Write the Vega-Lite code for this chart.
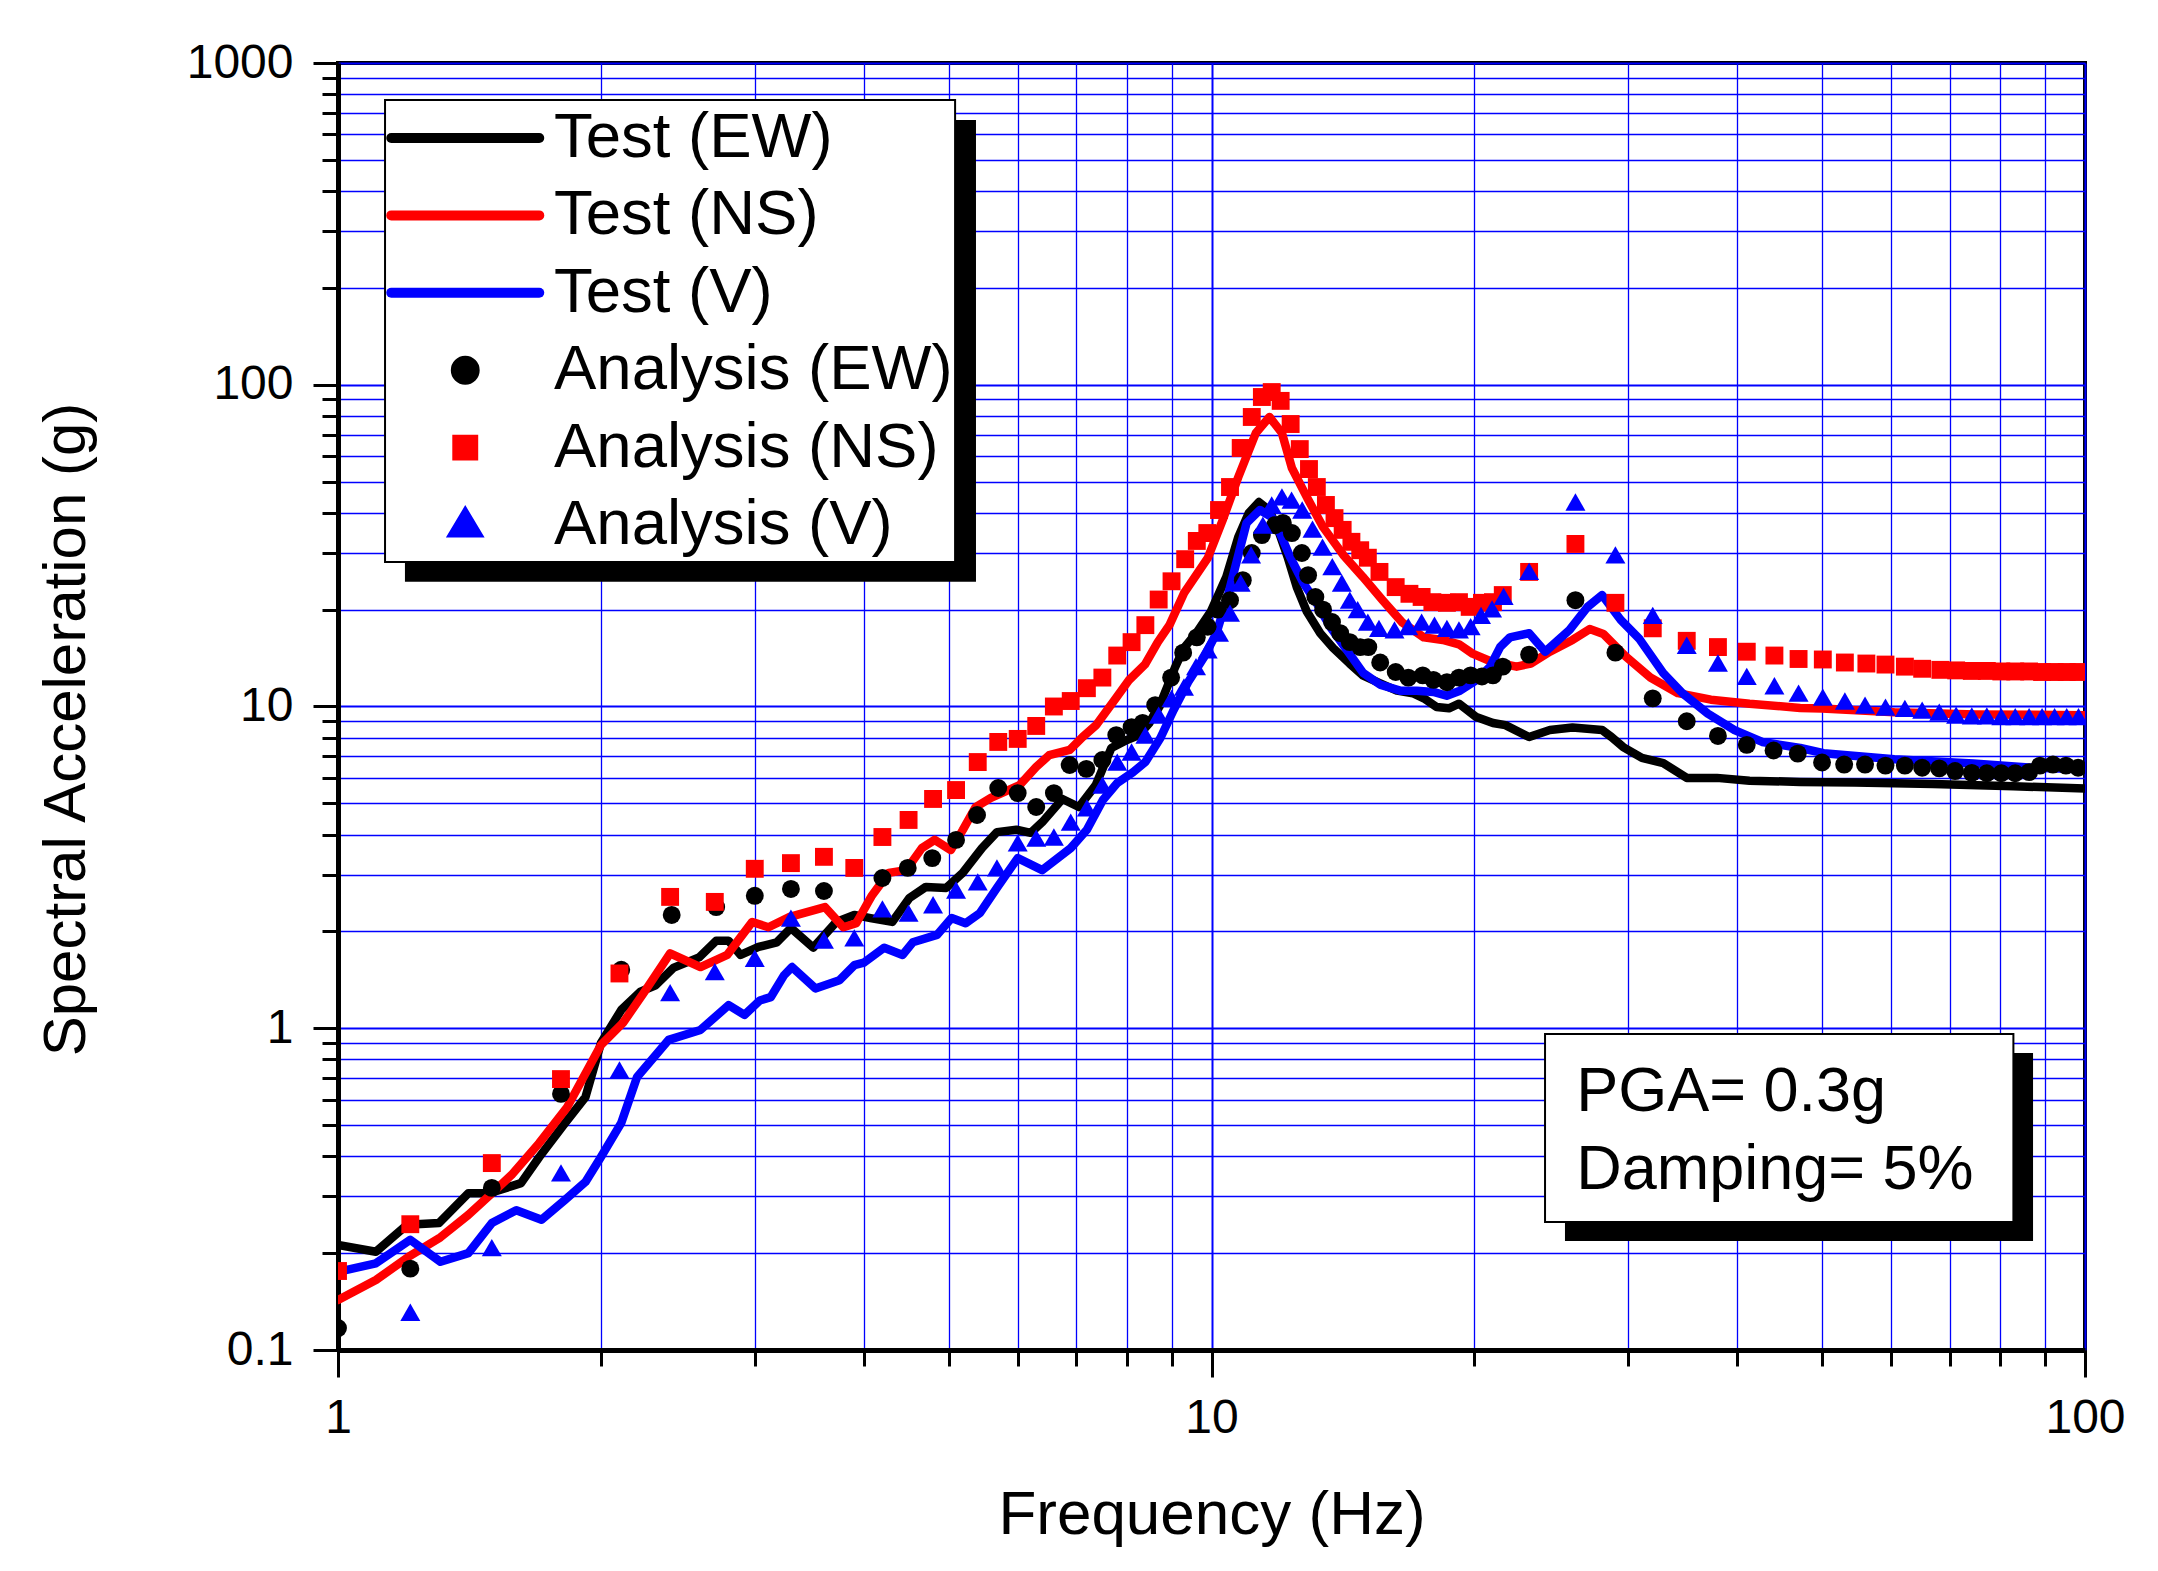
{
  "$schema": "https://vega.github.io/schema/vega-lite/v6.json",
  "width": 1747,
  "height": 1287,
  "autosize": {"type": "none"},
  "padding": {"left": 338, "top": 63, "right": 73, "bottom": 221},
  "background": "white",
  "config": {
    "view": {"stroke": "black", "strokeWidth": 4},
    "font": "Liberation Sans"
  },
  "datasets": {
    "boxes": [
      {"bx1": 1.132, "bx2": 5.087, "by1": 28.13, "by2": 767.4, "sx1": 1.193, "sx2": 5.375, "sy1": 24.4, "sy2": 665},
      {"bx1": 24.09, "bx2": 82.8, "by1": 0.2499, "by2": 0.9597, "sx1": 25.39, "sx2": 87.2, "sy1": 0.2182, "sy2": 0.8377}
    ],
    "notes": [
      {"f": 26.15, "a": 0.5531, "t": "PGA= 0.3g"},
      {"f": 26.15, "a": 0.3165, "t": "Damping= 5%"}
    ],
    "test": [
      {"s":"Test (EW)","f":1.0,"a":0.212},{"s":"Test (EW)","f":1.105,"a":0.202},{"s":"Test (EW)","f":1.2,"a":0.245},{"s":"Test (EW)","f":1.305,"a":0.248},{"s":"Test (EW)","f":1.41,"a":0.307},{"s":"Test (EW)","f":1.49,"a":0.307},{"s":"Test (EW)","f":1.62,"a":0.33},{"s":"Test (EW)","f":1.7,"a":0.398},{"s":"Test (EW)","f":1.82,"a":0.508},{"s":"Test (EW)","f":1.92,"a":0.611},{"s":"Test (EW)","f":2.0,"a":0.9},{"s":"Test (EW)","f":2.11,"a":1.14},{"s":"Test (EW)","f":2.22,"a":1.3},{"s":"Test (EW)","f":2.31,"a":1.36},{"s":"Test (EW)","f":2.42,"a":1.54},{"s":"Test (EW)","f":2.59,"a":1.66},{"s":"Test (EW)","f":2.71,"a":1.87},{"s":"Test (EW)","f":2.8,"a":1.87},{"s":"Test (EW)","f":2.89,"a":1.69},{"s":"Test (EW)","f":3.03,"a":1.79},{"s":"Test (EW)","f":3.18,"a":1.85},{"s":"Test (EW)","f":3.3,"a":2.05},{"s":"Test (EW)","f":3.5,"a":1.78},{"s":"Test (EW)","f":3.72,"a":2.14},{"s":"Test (EW)","f":3.9,"a":2.25},{"s":"Test (EW)","f":4.07,"a":2.2},{"s":"Test (EW)","f":4.31,"a":2.14},{"s":"Test (EW)","f":4.51,"a":2.54},{"s":"Test (EW)","f":4.71,"a":2.75},{"s":"Test (EW)","f":4.97,"a":2.73},{"s":"Test (EW)","f":5.19,"a":3.04},{"s":"Test (EW)","f":5.46,"a":3.63},{"s":"Test (EW)","f":5.68,"a":4.07},{"s":"Test (EW)","f":5.98,"a":4.14},{"s":"Test (EW)","f":6.21,"a":4.05},{"s":"Test (EW)","f":6.4,"a":4.37},{"s":"Test (EW)","f":6.75,"a":5.16},{"s":"Test (EW)","f":7.05,"a":4.87},{"s":"Test (EW)","f":7.37,"a":5.7},{"s":"Test (EW)","f":7.68,"a":7.43},{"s":"Test (EW)","f":8.0,"a":7.87},{"s":"Test (EW)","f":8.26,"a":8.15},{"s":"Test (EW)","f":8.49,"a":8.89},{"s":"Test (EW)","f":8.78,"a":10.5},{"s":"Test (EW)","f":9.08,"a":13.2},{"s":"Test (EW)","f":9.3,"a":15.2},{"s":"Test (EW)","f":9.62,"a":17.0},{"s":"Test (EW)","f":9.98,"a":19.7},{"s":"Test (EW)","f":10.4,"a":25.3},{"s":"Test (EW)","f":10.73,"a":33.6},{"s":"Test (EW)","f":11.03,"a":39.9},{"s":"Test (EW)","f":11.33,"a":43.2},{"s":"Test (EW)","f":11.64,"a":40.8},{"s":"Test (EW)","f":11.92,"a":35.4},{"s":"Test (EW)","f":12.22,"a":29.2},{"s":"Test (EW)","f":12.52,"a":23.5},{"s":"Test (EW)","f":12.86,"a":19.7},{"s":"Test (EW)","f":13.32,"a":16.9},{"s":"Test (EW)","f":13.78,"a":15.2},{"s":"Test (EW)","f":14.39,"a":13.6},{"s":"Test (EW)","f":14.9,"a":12.5},{"s":"Test (EW)","f":15.6,"a":11.8},{"s":"Test (EW)","f":16.3,"a":11.2},{"s":"Test (EW)","f":17.0,"a":11.0},{"s":"Test (EW)","f":17.5,"a":10.6},{"s":"Test (EW)","f":18.1,"a":9.96},{"s":"Test (EW)","f":18.7,"a":9.87},{"s":"Test (EW)","f":19.2,"a":10.2},{"s":"Test (EW)","f":20.1,"a":9.27},{"s":"Test (EW)","f":21.0,"a":8.89},{"s":"Test (EW)","f":21.7,"a":8.75},{"s":"Test (EW)","f":23.1,"a":8.04},{"s":"Test (EW)","f":24.4,"a":8.45},{"s":"Test (EW)","f":25.9,"a":8.6},{"s":"Test (EW)","f":28.0,"a":8.45},{"s":"Test (EW)","f":28.7,"a":8.04},{"s":"Test (EW)","f":29.6,"a":7.48},{"s":"Test (EW)","f":31.1,"a":6.92},{"s":"Test (EW)","f":32.9,"a":6.67},{"s":"Test (EW)","f":35.0,"a":6.0},{"s":"Test (EW)","f":37.9,"a":6.0},{"s":"Test (EW)","f":41.3,"a":5.88},{"s":"Test (EW)","f":47.2,"a":5.83},{"s":"Test (EW)","f":54.5,"a":5.8},{"s":"Test (EW)","f":67,"a":5.74},{"s":"Test (EW)","f":82.8,"a":5.65},{"s":"Test (EW)","f":100,"a":5.56},
      {"s":"Test (NS)","f":1.0,"a":0.143},{"s":"Test (NS)","f":1.105,"a":0.165},{"s":"Test (NS)","f":1.205,"a":0.195},{"s":"Test (NS)","f":1.31,"a":0.224},{"s":"Test (NS)","f":1.41,"a":0.263},{"s":"Test (NS)","f":1.5,"a":0.307},{"s":"Test (NS)","f":1.58,"a":0.35},{"s":"Test (NS)","f":1.7,"a":0.44},{"s":"Test (NS)","f":1.83,"a":0.569},{"s":"Test (NS)","f":2.0,"a":0.887},{"s":"Test (NS)","f":2.12,"a":1.04},{"s":"Test (NS)","f":2.24,"a":1.29},{"s":"Test (NS)","f":2.4,"a":1.71},{"s":"Test (NS)","f":2.6,"a":1.55},{"s":"Test (NS)","f":2.79,"a":1.69},{"s":"Test (NS)","f":2.98,"a":2.14},{"s":"Test (NS)","f":3.11,"a":2.06},{"s":"Test (NS)","f":3.29,"a":2.22},{"s":"Test (NS)","f":3.61,"a":2.38},{"s":"Test (NS)","f":3.79,"a":2.06},{"s":"Test (NS)","f":3.92,"a":2.12},{"s":"Test (NS)","f":4.08,"a":2.57},{"s":"Test (NS)","f":4.27,"a":3.04},{"s":"Test (NS)","f":4.47,"a":3.1},{"s":"Test (NS)","f":4.66,"a":3.63},{"s":"Test (NS)","f":4.82,"a":3.85},{"s":"Test (NS)","f":5.03,"a":3.58},{"s":"Test (NS)","f":5.19,"a":4.13},{"s":"Test (NS)","f":5.37,"a":4.87},{"s":"Test (NS)","f":5.59,"a":5.2},{"s":"Test (NS)","f":6.03,"a":5.7},{"s":"Test (NS)","f":6.3,"a":6.49},{"s":"Test (NS)","f":6.52,"a":7.06},{"s":"Test (NS)","f":6.88,"a":7.33},{"s":"Test (NS)","f":7.12,"a":8.04},{"s":"Test (NS)","f":7.38,"a":8.76},{"s":"Test (NS)","f":7.79,"a":10.7},{"s":"Test (NS)","f":8.05,"a":12.1},{"s":"Test (NS)","f":8.39,"a":13.5},{"s":"Test (NS)","f":8.68,"a":15.85},{"s":"Test (NS)","f":8.95,"a":17.9},{"s":"Test (NS)","f":9.3,"a":22.5},{"s":"Test (NS)","f":9.9,"a":28.9},{"s":"Test (NS)","f":10.3,"a":38.0},{"s":"Test (NS)","f":10.73,"a":51.6},{"s":"Test (NS)","f":11.24,"a":70.8},{"s":"Test (NS)","f":11.65,"a":79.4},{"s":"Test (NS)","f":12.04,"a":70.8},{"s":"Test (NS)","f":12.36,"a":55.1},{"s":"Test (NS)","f":12.87,"a":44.5},{"s":"Test (NS)","f":13.42,"a":36.1},{"s":"Test (NS)","f":14.15,"a":29.6},{"s":"Test (NS)","f":14.9,"a":25.3},{"s":"Test (NS)","f":15.7,"a":21.4},{"s":"Test (NS)","f":16.55,"a":18.2},{"s":"Test (NS)","f":17.5,"a":16.4},{"s":"Test (NS)","f":18.4,"a":16.1},{"s":"Test (NS)","f":19.2,"a":15.6},{"s":"Test (NS)","f":19.9,"a":14.6},{"s":"Test (NS)","f":20.9,"a":13.8},{"s":"Test (NS)","f":22.35,"a":13.3},{"s":"Test (NS)","f":23.2,"a":13.6},{"s":"Test (NS)","f":24.4,"a":14.8},{"s":"Test (NS)","f":25.9,"a":16.1},{"s":"Test (NS)","f":27.1,"a":17.4},{"s":"Test (NS)","f":28.1,"a":16.8},{"s":"Test (NS)","f":29.8,"a":14.3},{"s":"Test (NS)","f":31.8,"a":12.3},{"s":"Test (NS)","f":34.2,"a":11.0},{"s":"Test (NS)","f":37.3,"a":10.5},{"s":"Test (NS)","f":41.3,"a":10.2},{"s":"Test (NS)","f":47.2,"a":9.9},{"s":"Test (NS)","f":50,"a":9.85},{"s":"Test (NS)","f":60.5,"a":9.6},{"s":"Test (NS)","f":75,"a":9.45},{"s":"Test (NS)","f":100,"a":9.4},
      {"s":"Test (V)","f":1.0,"a":0.175},{"s":"Test (V)","f":1.105,"a":0.186},{"s":"Test (V)","f":1.21,"a":0.22},{"s":"Test (V)","f":1.31,"a":0.188},{"s":"Test (V)","f":1.41,"a":0.2},{"s":"Test (V)","f":1.5,"a":0.248},{"s":"Test (V)","f":1.6,"a":0.272},{"s":"Test (V)","f":1.71,"a":0.254},{"s":"Test (V)","f":1.82,"a":0.293},{"s":"Test (V)","f":1.92,"a":0.333},{"s":"Test (V)","f":2.0,"a":0.398},{"s":"Test (V)","f":2.11,"a":0.508},{"s":"Test (V)","f":2.2,"a":0.706},{"s":"Test (V)","f":2.39,"a":0.92},{"s":"Test (V)","f":2.6,"a":0.988},{"s":"Test (V)","f":2.8,"a":1.18},{"s":"Test (V)","f":2.92,"a":1.1},{"s":"Test (V)","f":3.04,"a":1.22},{"s":"Test (V)","f":3.13,"a":1.25},{"s":"Test (V)","f":3.24,"a":1.46},{"s":"Test (V)","f":3.31,"a":1.55},{"s":"Test (V)","f":3.52,"a":1.33},{"s":"Test (V)","f":3.75,"a":1.41},{"s":"Test (V)","f":3.9,"a":1.57},{"s":"Test (V)","f":4.0,"a":1.6},{"s":"Test (V)","f":4.22,"a":1.78},{"s":"Test (V)","f":4.43,"a":1.69},{"s":"Test (V)","f":4.55,"a":1.85},{"s":"Test (V)","f":4.85,"a":1.95},{"s":"Test (V)","f":5.04,"a":2.2},{"s":"Test (V)","f":5.23,"a":2.12},{"s":"Test (V)","f":5.43,"a":2.28},{"s":"Test (V)","f":5.69,"a":2.75},{"s":"Test (V)","f":6.0,"a":3.38},{"s":"Test (V)","f":6.4,"a":3.1},{"s":"Test (V)","f":6.9,"a":3.63},{"s":"Test (V)","f":7.2,"a":4.14},{"s":"Test (V)","f":7.51,"a":5.12},{"s":"Test (V)","f":7.8,"a":5.78},{"s":"Test (V)","f":8.13,"a":6.25},{"s":"Test (V)","f":8.4,"a":6.72},{"s":"Test (V)","f":8.74,"a":7.98},{"s":"Test (V)","f":9.05,"a":9.75},{"s":"Test (V)","f":9.4,"a":11.9},{"s":"Test (V)","f":9.8,"a":14.2},{"s":"Test (V)","f":10.13,"a":16.9},{"s":"Test (V)","f":10.45,"a":22.3},{"s":"Test (V)","f":10.97,"a":37.2},{"s":"Test (V)","f":11.36,"a":40.8},{"s":"Test (V)","f":11.72,"a":38.8},{"s":"Test (V)","f":11.98,"a":34.6},{"s":"Test (V)","f":12.3,"a":29.2},{"s":"Test (V)","f":12.74,"a":24.2},{"s":"Test (V)","f":13.19,"a":21.0},{"s":"Test (V)","f":13.67,"a":17.7},{"s":"Test (V)","f":14.28,"a":15.0},{"s":"Test (V)","f":14.92,"a":12.7},{"s":"Test (V)","f":15.59,"a":11.7},{"s":"Test (V)","f":16.44,"a":11.2},{"s":"Test (V)","f":17.18,"a":11.2},{"s":"Test (V)","f":17.95,"a":11.1},{"s":"Test (V)","f":18.59,"a":10.8},{"s":"Test (V)","f":19.25,"a":11.2},{"s":"Test (V)","f":20.12,"a":12.1},{"s":"Test (V)","f":20.84,"a":13.3},{"s":"Test (V)","f":21.4,"a":15.3},{"s":"Test (V)","f":21.96,"a":16.4},{"s":"Test (V)","f":23.1,"a":16.9},{"s":"Test (V)","f":24.1,"a":14.8},{"s":"Test (V)","f":25.7,"a":17.3},{"s":"Test (V)","f":26.95,"a":20.4},{"s":"Test (V)","f":28.0,"a":22.2},{"s":"Test (V)","f":29.4,"a":18.6},{"s":"Test (V)","f":30.9,"a":16.2},{"s":"Test (V)","f":32.9,"a":12.7},{"s":"Test (V)","f":34.6,"a":11.0},{"s":"Test (V)","f":37.0,"a":9.5},{"s":"Test (V)","f":39.7,"a":8.45},{"s":"Test (V)","f":42.7,"a":7.76},{"s":"Test (V)","f":47.2,"a":7.43},{"s":"Test (V)","f":50.2,"a":7.16},{"s":"Test (V)","f":60.5,"a":6.86},{"s":"Test (V)","f":74.5,"a":6.65},{"s":"Test (V)","f":87,"a":6.45},{"s":"Test (V)","f":100,"a":6.38}
    ],
    "analysis": [
      {"s":"Analysis (EW)","f":1.0,"a":0.117},{"s":"Analysis (EW)","f":1.21,"a":0.179},{"s":"Analysis (EW)","f":1.5,"a":0.319},{"s":"Analysis (EW)","f":1.8,"a":0.625},{"s":"Analysis (EW)","f":2.11,"a":1.52},{"s":"Analysis (EW)","f":2.41,"a":2.25},{"s":"Analysis (EW)","f":2.71,"a":2.38},{"s":"Analysis (EW)","f":3.0,"a":2.58},{"s":"Analysis (EW)","f":3.3,"a":2.71},{"s":"Analysis (EW)","f":3.6,"a":2.67},{"s":"Analysis (EW)","f":4.2,"a":2.93},{"s":"Analysis (EW)","f":4.49,"a":3.15},{"s":"Analysis (EW)","f":4.79,"a":3.38},{"s":"Analysis (EW)","f":5.1,"a":3.85},{"s":"Analysis (EW)","f":5.39,"a":4.6},{"s":"Analysis (EW)","f":5.7,"a":5.58},{"s":"Analysis (EW)","f":6.0,"a":5.38},{"s":"Analysis (EW)","f":6.3,"a":4.87},{"s":"Analysis (EW)","f":6.6,"a":5.38},{"s":"Analysis (EW)","f":6.88,"a":6.58},{"s":"Analysis (EW)","f":7.19,"a":6.4},{"s":"Analysis (EW)","f":7.5,"a":6.82},{"s":"Analysis (EW)","f":7.78,"a":8.15},{"s":"Analysis (EW)","f":8.1,"a":8.63},{"s":"Analysis (EW)","f":8.34,"a":8.89},{"s":"Analysis (EW)","f":8.62,"a":10.1},{"s":"Analysis (EW)","f":8.99,"a":12.3},{"s":"Analysis (EW)","f":9.28,"a":14.7},{"s":"Analysis (EW)","f":9.62,"a":16.4},{"s":"Analysis (EW)","f":9.9,"a":17.7},{"s":"Analysis (EW)","f":10.17,"a":20.0},{"s":"Analysis (EW)","f":10.5,"a":21.4},{"s":"Analysis (EW)","f":10.86,"a":24.7},{"s":"Analysis (EW)","f":11.12,"a":30.0},{"s":"Analysis (EW)","f":11.42,"a":34.1},{"s":"Analysis (EW)","f":11.82,"a":36.6},{"s":"Analysis (EW)","f":12.07,"a":37.2},{"s":"Analysis (EW)","f":12.36,"a":34.6},{"s":"Analysis (EW)","f":12.69,"a":30.0},{"s":"Analysis (EW)","f":12.9,"a":25.6},{"s":"Analysis (EW)","f":13.15,"a":21.9},{"s":"Analysis (EW)","f":13.42,"a":20.0},{"s":"Analysis (EW)","f":13.74,"a":18.3},{"s":"Analysis (EW)","f":14.04,"a":16.9},{"s":"Analysis (EW)","f":14.4,"a":15.85},{"s":"Analysis (EW)","f":14.8,"a":15.3},{"s":"Analysis (EW)","f":15.12,"a":15.3},{"s":"Analysis (EW)","f":15.6,"a":13.7},{"s":"Analysis (EW)","f":16.25,"a":12.8},{"s":"Analysis (EW)","f":16.8,"a":12.3},{"s":"Analysis (EW)","f":17.45,"a":12.5},{"s":"Analysis (EW)","f":17.95,"a":12.1},{"s":"Analysis (EW)","f":18.6,"a":11.9},{"s":"Analysis (EW)","f":19.2,"a":12.3},{"s":"Analysis (EW)","f":19.8,"a":12.5},{"s":"Analysis (EW)","f":20.4,"a":12.4},{"s":"Analysis (EW)","f":21.0,"a":12.5},{"s":"Analysis (EW)","f":21.55,"a":13.3},{"s":"Analysis (EW)","f":23.1,"a":14.5},{"s":"Analysis (EW)","f":26.1,"a":21.4},{"s":"Analysis (EW)","f":29.0,"a":14.7},{"s":"Analysis (EW)","f":32.0,"a":10.6},{"s":"Analysis (EW)","f":35.0,"a":9.0},{"s":"Analysis (EW)","f":38.0,"a":8.1},{"s":"Analysis (EW)","f":41.0,"a":7.6},{"s":"Analysis (EW)","f":44.0,"a":7.3},{"s":"Analysis (EW)","f":46.9,"a":7.14},{"s":"Analysis (EW)","f":50.0,"a":6.7},{"s":"Analysis (EW)","f":53.0,"a":6.6},{"s":"Analysis (EW)","f":56.0,"a":6.6},{"s":"Analysis (EW)","f":59.1,"a":6.55},{"s":"Analysis (EW)","f":62.2,"a":6.55},{"s":"Analysis (EW)","f":65.1,"a":6.45},{"s":"Analysis (EW)","f":68.1,"a":6.42},{"s":"Analysis (EW)","f":71.0,"a":6.3},{"s":"Analysis (EW)","f":74.2,"a":6.22},{"s":"Analysis (EW)","f":77.2,"a":6.2},{"s":"Analysis (EW)","f":80.2,"a":6.2},{"s":"Analysis (EW)","f":83.2,"a":6.2},{"s":"Analysis (EW)","f":86.3,"a":6.25},{"s":"Analysis (EW)","f":88.8,"a":6.55},{"s":"Analysis (EW)","f":91.9,"a":6.6},{"s":"Analysis (EW)","f":95.1,"a":6.55},{"s":"Analysis (EW)","f":98.2,"a":6.45},
      {"s":"Analysis (NS)","f":1.0,"a":0.176},{"s":"Analysis (NS)","f":1.21,"a":0.246},{"s":"Analysis (NS)","f":1.5,"a":0.381},{"s":"Analysis (NS)","f":1.8,"a":0.695},{"s":"Analysis (NS)","f":2.1,"a":1.48},{"s":"Analysis (NS)","f":2.4,"a":2.56},{"s":"Analysis (NS)","f":2.7,"a":2.47},{"s":"Analysis (NS)","f":3.0,"a":3.13},{"s":"Analysis (NS)","f":3.3,"a":3.26},{"s":"Analysis (NS)","f":3.6,"a":3.41},{"s":"Analysis (NS)","f":3.9,"a":3.15},{"s":"Analysis (NS)","f":4.2,"a":3.93},{"s":"Analysis (NS)","f":4.5,"a":4.44},{"s":"Analysis (NS)","f":4.8,"a":5.16},{"s":"Analysis (NS)","f":5.1,"a":5.5},{"s":"Analysis (NS)","f":5.4,"a":6.72},{"s":"Analysis (NS)","f":5.7,"a":7.76},{"s":"Analysis (NS)","f":6.0,"a":7.93},{"s":"Analysis (NS)","f":6.3,"a":8.7},{"s":"Analysis (NS)","f":6.6,"a":10.0},{"s":"Analysis (NS)","f":6.9,"a":10.4},{"s":"Analysis (NS)","f":7.2,"a":11.4},{"s":"Analysis (NS)","f":7.5,"a":12.3},{"s":"Analysis (NS)","f":7.8,"a":14.4},{"s":"Analysis (NS)","f":8.1,"a":15.85},{"s":"Analysis (NS)","f":8.4,"a":17.9},{"s":"Analysis (NS)","f":8.7,"a":21.5},{"s":"Analysis (NS)","f":9.0,"a":24.5},{"s":"Analysis (NS)","f":9.33,"a":28.7},{"s":"Analysis (NS)","f":9.62,"a":32.7},{"s":"Analysis (NS)","f":9.89,"a":34.6},{"s":"Analysis (NS)","f":10.2,"a":40.8},{"s":"Analysis (NS)","f":10.5,"a":48.1},{"s":"Analysis (NS)","f":10.8,"a":63.6},{"s":"Analysis (NS)","f":11.12,"a":79.4},{"s":"Analysis (NS)","f":11.42,"a":91.6},{"s":"Analysis (NS)","f":11.72,"a":94.9},{"s":"Analysis (NS)","f":12.0,"a":89.1},{"s":"Analysis (NS)","f":12.32,"a":75.5},{"s":"Analysis (NS)","f":12.62,"a":63.1},{"s":"Analysis (NS)","f":12.93,"a":54.7},{"s":"Analysis (NS)","f":13.2,"a":48.1},{"s":"Analysis (NS)","f":13.52,"a":42.3},{"s":"Analysis (NS)","f":13.83,"a":38.5},{"s":"Analysis (NS)","f":14.13,"a":35.4},{"s":"Analysis (NS)","f":14.46,"a":32.5},{"s":"Analysis (NS)","f":14.8,"a":30.6},{"s":"Analysis (NS)","f":15.1,"a":29.0},{"s":"Analysis (NS)","f":15.57,"a":26.2},{"s":"Analysis (NS)","f":16.25,"a":23.5},{"s":"Analysis (NS)","f":16.85,"a":22.4},{"s":"Analysis (NS)","f":17.4,"a":21.9},{"s":"Analysis (NS)","f":17.9,"a":21.1},{"s":"Analysis (NS)","f":18.6,"a":21.0},{"s":"Analysis (NS)","f":19.2,"a":21.1},{"s":"Analysis (NS)","f":19.75,"a":20.4},{"s":"Analysis (NS)","f":20.4,"a":21.0},{"s":"Analysis (NS)","f":21.0,"a":21.1},{"s":"Analysis (NS)","f":21.55,"a":22.2},{"s":"Analysis (NS)","f":23.1,"a":26.2},{"s":"Analysis (NS)","f":26.1,"a":32.0},{"s":"Analysis (NS)","f":29.0,"a":21.0},{"s":"Analysis (NS)","f":32.0,"a":17.5},{"s":"Analysis (NS)","f":35.0,"a":16.0},{"s":"Analysis (NS)","f":38.0,"a":15.3},{"s":"Analysis (NS)","f":41.0,"a":14.8},{"s":"Analysis (NS)","f":44.1,"a":14.4},{"s":"Analysis (NS)","f":47.0,"a":14.05},{"s":"Analysis (NS)","f":50.1,"a":14.0},{"s":"Analysis (NS)","f":53.1,"a":13.7},{"s":"Analysis (NS)","f":56.2,"a":13.6},{"s":"Analysis (NS)","f":59.1,"a":13.5},{"s":"Analysis (NS)","f":62.2,"a":13.3},{"s":"Analysis (NS)","f":65.1,"a":13.1},{"s":"Analysis (NS)","f":68.3,"a":13.0},{"s":"Analysis (NS)","f":71.2,"a":12.95},{"s":"Analysis (NS)","f":74.2,"a":12.9},{"s":"Analysis (NS)","f":77.2,"a":12.9},{"s":"Analysis (NS)","f":80.2,"a":12.85},{"s":"Analysis (NS)","f":83.2,"a":12.85},{"s":"Analysis (NS)","f":86.3,"a":12.85},{"s":"Analysis (NS)","f":89.3,"a":12.8},{"s":"Analysis (NS)","f":92.3,"a":12.8},{"s":"Analysis (NS)","f":95.3,"a":12.8},{"s":"Analysis (NS)","f":98.3,"a":12.8},
      {"s":"Analysis (V)","f":1.21,"a":0.131},{"s":"Analysis (V)","f":1.5,"a":0.208},{"s":"Analysis (V)","f":1.8,"a":0.355},{"s":"Analysis (V)","f":2.1,"a":0.742},{"s":"Analysis (V)","f":2.4,"a":1.29},{"s":"Analysis (V)","f":2.7,"a":1.5},{"s":"Analysis (V)","f":3.0,"a":1.65},{"s":"Analysis (V)","f":3.3,"a":2.2},{"s":"Analysis (V)","f":3.6,"a":1.88},{"s":"Analysis (V)","f":3.9,"a":1.91},{"s":"Analysis (V)","f":4.2,"a":2.35},{"s":"Analysis (V)","f":4.5,"a":2.28},{"s":"Analysis (V)","f":4.8,"a":2.42},{"s":"Analysis (V)","f":5.1,"a":2.69},{"s":"Analysis (V)","f":5.4,"a":2.85},{"s":"Analysis (V)","f":5.68,"a":3.15},{"s":"Analysis (V)","f":6.0,"a":3.77},{"s":"Analysis (V)","f":6.3,"a":3.9},{"s":"Analysis (V)","f":6.6,"a":3.93},{"s":"Analysis (V)","f":6.9,"a":4.37},{"s":"Analysis (V)","f":7.2,"a":4.84},{"s":"Analysis (V)","f":7.5,"a":5.7},{"s":"Analysis (V)","f":7.8,"a":6.72},{"s":"Analysis (V)","f":8.1,"a":7.22},{"s":"Analysis (V)","f":8.4,"a":8.15},{"s":"Analysis (V)","f":8.7,"a":9.4},{"s":"Analysis (V)","f":9.0,"a":10.6},{"s":"Analysis (V)","f":9.3,"a":11.5},{"s":"Analysis (V)","f":9.6,"a":13.3},{"s":"Analysis (V)","f":9.9,"a":15.0},{"s":"Analysis (V)","f":10.2,"a":16.9},{"s":"Analysis (V)","f":10.5,"a":19.5},{"s":"Analysis (V)","f":10.8,"a":24.2},{"s":"Analysis (V)","f":11.1,"a":29.6},{"s":"Analysis (V)","f":11.45,"a":36.6},{"s":"Analysis (V)","f":11.72,"a":42.3},{"s":"Analysis (V)","f":12.04,"a":44.8},{"s":"Analysis (V)","f":12.35,"a":43.8},{"s":"Analysis (V)","f":12.7,"a":40.8},{"s":"Analysis (V)","f":13.05,"a":35.6},{"s":"Analysis (V)","f":13.4,"a":31.3},{"s":"Analysis (V)","f":13.75,"a":27.2},{"s":"Analysis (V)","f":14.1,"a":24.2},{"s":"Analysis (V)","f":14.4,"a":21.4},{"s":"Analysis (V)","f":14.7,"a":20.0},{"s":"Analysis (V)","f":15.1,"a":18.3},{"s":"Analysis (V)","f":15.55,"a":17.5},{"s":"Analysis (V)","f":16.2,"a":17.3},{"s":"Analysis (V)","f":16.8,"a":17.7},{"s":"Analysis (V)","f":17.4,"a":18.3},{"s":"Analysis (V)","f":18.0,"a":17.9},{"s":"Analysis (V)","f":18.6,"a":17.5},{"s":"Analysis (V)","f":19.2,"a":17.3},{"s":"Analysis (V)","f":19.8,"a":17.7},{"s":"Analysis (V)","f":20.35,"a":19.2},{"s":"Analysis (V)","f":20.95,"a":20.1},{"s":"Analysis (V)","f":21.6,"a":22.0},{"s":"Analysis (V)","f":23.1,"a":26.3},{"s":"Analysis (V)","f":26.1,"a":43.2},{"s":"Analysis (V)","f":29.0,"a":29.6},{"s":"Analysis (V)","f":32.0,"a":19.2},{"s":"Analysis (V)","f":35.0,"a":15.5},{"s":"Analysis (V)","f":38.0,"a":13.65},{"s":"Analysis (V)","f":41.0,"a":12.4},{"s":"Analysis (V)","f":44.1,"a":11.6},{"s":"Analysis (V)","f":47.0,"a":11.0},{"s":"Analysis (V)","f":50.1,"a":10.7},{"s":"Analysis (V)","f":53.1,"a":10.4},{"s":"Analysis (V)","f":56.0,"a":10.1},{"s":"Analysis (V)","f":59.1,"a":9.95},{"s":"Analysis (V)","f":62.2,"a":9.87},{"s":"Analysis (V)","f":65.1,"a":9.75},{"s":"Analysis (V)","f":68.1,"a":9.6},{"s":"Analysis (V)","f":71.2,"a":9.4},{"s":"Analysis (V)","f":74.2,"a":9.35},{"s":"Analysis (V)","f":77.2,"a":9.35},{"s":"Analysis (V)","f":80.2,"a":9.3},{"s":"Analysis (V)","f":83.2,"a":9.3},{"s":"Analysis (V)","f":86.3,"a":9.3},{"s":"Analysis (V)","f":89.3,"a":9.3},{"s":"Analysis (V)","f":92.3,"a":9.3},{"s":"Analysis (V)","f":95.3,"a":9.3},{"s":"Analysis (V)","f":98.3,"a":9.3}
    ]
  },
  "layer": [
    {
      "data": {"name": "boxes"},
      "mark": {"type": "rect", "fill": "black", "stroke": null},
      "encoding": {
        "x": {"field": "sx1", "type": "quantitative", "scale": {"type": "log", "domain": [1, 100], "nice": false},
          "axis": {
            "title": "Frequency (Hz)",
            "values": [1,2,3,4,5,6,7,8,9,10,20,30,40,50,60,70,80,90,100],
            "labelExpr": "indexof([1,10,100], datum.value) >= 0 ? '' + datum.value : ''",
            "grid": true,
            "gridColor": "#0000ff",
            "gridOpacity": 1,
            "gridWidth": {"condition": {"test": "indexof([1,10,100], datum.value) >= 0", "value": 2}, "value": 1.3},
            "tickSize": {"condition": {"test": "indexof([1,10,100], datum.value) >= 0", "value": 27}, "value": 16},
            "tickWidth": 3, "tickColor": "black",
            "domainColor": "black", "domainWidth": 5,
            "labelFont": "Liberation Sans", "labelFontSize": 48, "labelColor": "black",
            "labelBaseline": "alphabetic", "labelPadding": 55,
            "labelFlush": false, "labelOverlap": false, "labelBound": false,
            "titleFont": "Liberation Sans", "titleFontSize": 62, "titleFontWeight": "normal", "titleColor": "black",
            "titleBaseline": "alphabetic", "titleY": 183
          }},
        "x2": {"field": "sx2"},
        "y": {"field": "sy1", "type": "quantitative", "scale": {"type": "log", "domain": [0.1, 1000], "nice": false},
          "axis": {
            "title": "Spectral Acceleration (g)",
            "values": [0.1,0.2,0.3,0.4,0.5,0.6,0.7,0.8,0.9,1,2,3,4,5,6,7,8,9,10,20,30,40,50,60,70,80,90,100,200,300,400,500,600,700,800,900,1000],
            "labelExpr": "indexof([0.1,1,10,100,1000], datum.value) >= 0 ? '' + datum.value : ''",
            "grid": true,
            "gridColor": "#0000ff",
            "gridOpacity": 1,
            "gridWidth": {"condition": {"test": "indexof([0.1,1,10,100,1000], datum.value) >= 0", "value": 2}, "value": 1.3},
            "tickSize": {"condition": {"test": "indexof([0.1,1,10,100,1000], datum.value) >= 0", "value": 25}, "value": 16},
            "tickWidth": 3, "tickColor": "black",
            "domainColor": "black", "domainWidth": 5,
            "labelFont": "Liberation Sans", "labelFontSize": 48, "labelColor": "black",
            "labelPadding": 20, "labelOverlap": false, "labelBound": false, "labelFlush": false,
            "titleFont": "Liberation Sans", "titleFontSize": 60, "titleFontWeight": "normal", "titleColor": "black",
            "titleAngle": 270, "titleBaseline": "alphabetic", "titleAlign": "center",
            "titleX": -254, "titleY": 666
          }},
        "y2": {"field": "sy2"}
      }
    },
    {
      "data": {"name": "boxes"},
      "mark": {"type": "rect", "fill": "white", "stroke": "black", "strokeWidth": 2},
      "encoding": {
        "x": {"field": "bx1", "type": "quantitative"},
        "x2": {"field": "bx2"},
        "y": {"field": "by1", "type": "quantitative"},
        "y2": {"field": "by2"}
      }
    },
    {
      "data": {"name": "test"},
      "mark": {"type": "line", "strokeWidth": 8.5, "strokeJoin": "round", "strokeCap": "round", "clip": true},
      "encoding": {
        "x": {"field": "f", "type": "quantitative"},
        "y": {"field": "a", "type": "quantitative"},
        "color": {"field": "s", "type": "nominal",
          "scale": {"domain": ["Test (EW)","Test (NS)","Test (V)","Analysis (EW)","Analysis (NS)","Analysis (V)"],
                    "range": ["#000000","#ff0000","#0000ff","#000000","#ff0000","#0000ff"]},
          "legend": {
            "orient": "none", "legendX": 95.5, "legendY": 43.25, "title": null,
            "labelFont": "Liberation Sans", "labelFontSize": 63.5, "labelColor": "black", "labelLimit": 1000,
            "labelOffset": 57, "rowPadding": 12.4, "padding": 0,
            "symbolSize": 1369, "symbolStrokeWidth": 10,
            "encoding": {
              "symbols": {
                "shape": {"value": {"expr": "indexof(datum.value,'Test')===0 ? 'M-4,0H4' : datum.value==='Analysis (EW)' ? 'M0.51,0A0.51,0.51 0 1 1 -0.51,0A0.51,0.51 0 1 1 0.51,0Z' : datum.value==='Analysis (NS)' ? 'M-0.43,-0.43H0.43V0.43H-0.43Z' : 'M0,-0.55L0.57,0.4L-0.57,0.4Z'"}},
                "fill": {"value": {"expr": "indexof(datum.value,'Test')===0 ? 'transparent' : (indexof(datum.value,'EW')>0 ? '#000000' : indexof(datum.value,'NS')>0 ? '#ff0000' : '#0000ff')"}},
                "stroke": {"value": {"expr": "indexof(datum.value,'Test')!==0 ? 'transparent' : (indexof(datum.value,'EW')>0 ? '#000000' : indexof(datum.value,'NS')>0 ? '#ff0000' : '#0000ff')"}},
                "strokeWidth": {"value": 10},
                "strokeCap": {"value": "round"},
                "opacity": {"value": 1}
              }
            }
          }
        }
      }
    },
    {
      "data": {"name": "analysis"},
      "mark": {"type": "point", "filled": true, "opacity": 1, "strokeWidth": 0, "clip": true},
      "encoding": {
        "x": {"field": "f", "type": "quantitative"},
        "y": {"field": "a", "type": "quantitative"},
        "color": {"field": "s", "type": "nominal"},
        "shape": {"field": "s", "type": "nominal",
          "scale": {"domain": ["Analysis (EW)","Analysis (NS)","Analysis (V)"], "range": ["circle","square","triangle-up"]},
          "legend": null},
        "size": {"condition": {"test": "datum.s === 'Analysis (V)'", "value": 400}, "value": 320}
      }
    },
    {
      "data": {"name": "notes"},
      "mark": {"type": "text", "align": "left", "baseline": "alphabetic", "font": "Liberation Sans", "fontSize": 63, "color": "black"},
      "encoding": {
        "x": {"field": "f", "type": "quantitative"},
        "y": {"field": "a", "type": "quantitative"},
        "text": {"field": "t"}
      }
    }
  ]
}
